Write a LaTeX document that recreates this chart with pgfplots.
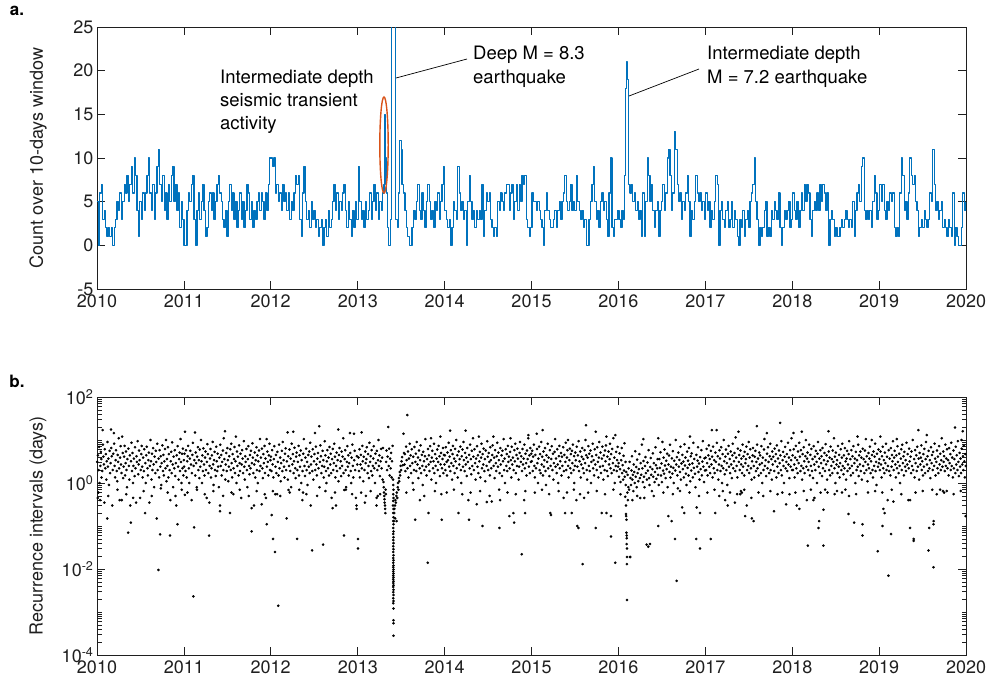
\documentclass[border=0pt]{standalone}
\usepackage{pgfplots}
\pgfplotsset{compat=1.18}
\usepackage{fontspec}
\setmainfont{TeX Gyre Heros}
\definecolor{mblue}{RGB}{0,114,189}
\definecolor{morange}{RGB}{217,83,25}
\definecolor{axgray}{gray}{0.12}

\pgfplotsset{
  panel/.style={
    scale only axis, width=869pt, anchor=north west,
    xmin=0, xmax=3652,
    xtick={0,365,730,1096,1461,1826,2191,2557,2922,3287,3652},
    xticklabels={2010,2011,2012,2013,2014,2015,2016,2017,2018,2019,2020},
    tick align=inside,
    major tick length=8pt, minor tick length=4.5pt,
    axis line style={line width=0.7pt, axgray},
    tick style={line width=0.7pt, axgray},
    tick label style={font=\fontsize{18}{21}\selectfont, text=axgray},
    xticklabel style={yshift=-2pt},
    /pgf/number format/assume math mode=true,
  },
  rdot/.style={only marks, mark=*, mark size=1.1pt, mark options={fill=black, draw=none}},
}

\begin{document}
\begin{tikzpicture}
\useasboundingbox (0pt,0pt) rectangle (992pt,-686pt);
\fill[white] (0pt,0pt) rectangle (992pt,-686pt);

% ---------- a. event count over a sliding 10-day window (x in days since 2010-01-01)
\begin{axis}[panel, at={(97pt,-27pt)}, height=262pt,
  ymin=-5, ymax=25, ytick={-5,0,5,10,15,20,25}]
\addplot[const plot, draw=mblue, line width=1.2pt, line join=round] coordinates {
(0,5)(6,0)(12,6)(18,7)(24,3)(30,4)(36,2)(42,1)(48,2)(54,1)(60,2)(66,0)(72,2)(78,3)(84,5)(90,4)(96,6)(102,3)(108,5)(114,7)(120,6)(126,8)(132,5)(138,7)(144,9)(150,6)(156,10)(162,8)(168,4)(174,1)(180,5)(186,3)(192,6)(198,4)(204,6)(210,8)(216,10)(222,6)(228,4)(234,7)(240,3)(246,6)(252,9)(258,11)(264,7)(270,5)(276,8)(282,4)(288,6)(294,3)(300,7)(306,5)(312,8)(318,9)(324,5)(330,7)(336,4)(342,6)(348,2)(354,5)(360,3)
(366,0)(372,0)(378,4)(384,6)(390,5)(396,7)(402,8)(408,3)(414,0)(420,4)(426,6)(432,3)(438,5)(444,7)(450,4)(456,1)(462,2)(468,5)(474,6)(480,4)(486,6)(492,3)(498,5)(504,7)(510,8)(516,6)(522,5)(528,3)(534,2)(540,4)(546,1)(552,5)(558,7)(564,4)(570,6)(576,3)(582,5)(588,2)(594,4)(600,6)(606,3)(612,5)(618,2)(624,4)(630,7)(636,6)(642,3)(648,5)(654,2)(660,4)(666,3)(672,5)(678,6)(684,4)(690,6)(696,5)(702,3)(708,6)(714,4)(720,7)(726,10)
(732,10)(738,9)(744,10)(750,6)(756,7)(762,5)(768,6)(774,4)(780,7)(786,5)(792,6)(798,4)(804,6)(810,3)(816,5)(822,4)(828,6)(834,8)(840,7)(846,8)(852,3)(858,1)(864,6)(870,9)(876,5)(882,3)(888,4)(894,2)(900,5)(906,3)(912,4)(918,2)(924,3)(930,1)(936,2)(942,3)(948,0)(954,2)(960,3)(966,1)(972,4)(978,2)(984,3)(990,5)(996,7)(1002,4)(1008,6)(1014,3)(1020,5)(1026,4)(1032,6)(1038,7)(1044,4)(1050,2)(1056,5)(1062,3)(1068,1)(1074,4)(1080,2)(1086,5)(1092,3)
(1098,9)(1104,5)(1110,3)(1116,4)(1122,2)(1128,5)(1134,3)(1140,4)(1146,6)(1152,3)(1158,5)(1164,7)(1170,4)(1176,6)(1182,3)(1188,5)(1194,4)(1200,6)(1206,7)(1210,15)(1214,10)(1218,6)(1222,2)(1226,0)(1232,3)(1238,45)(1250,30)(1256,3)(1262,2)(1266,6)(1272,12)(1278,11)(1282,7)(1288,6)(1294,4)(1300,2)(1306,1)(1312,0)(1318,0)(1324,2)(1330,4)(1336,3)(1342,5)(1348,7)(1354,4)(1360,3)(1366,6)(1372,4)(1378,2)(1384,5)(1390,7)(1396,5)(1402,3)(1408,4)(1414,2)(1420,5)(1426,4)(1432,6)(1438,3)(1444,5)(1450,7)(1456,9)(1462,4)
(1468,3)(1474,2)(1480,3)(1486,0)(1492,2)(1498,5)(1504,4)(1510,3)(1516,9)(1522,6)(1528,4)(1534,5)(1540,3)(1546,4)(1552,0)(1558,5)(1564,8)(1570,5)(1576,3)(1582,4)(1588,2)(1594,4)(1600,3)(1606,4)(1612,3)(1618,7)(1624,1)(1630,4)(1636,6)(1642,5)(1648,6)(1654,3)(1660,2)(1666,1)(1672,2)(1678,1)(1684,5)(1690,4)(1696,6)(1702,5)(1708,4)(1714,6)(1720,7)(1726,7)(1732,4)(1738,6)(1744,7)(1750,3)(1756,5)(1762,7)(1768,4)(1774,7)(1780,5)(1786,8)(1792,7)(1798,8)(1804,3)(1810,2)(1816,1)(1822,2)
(1828,6)(1834,5)(1840,5)(1846,4)(1852,5)(1858,4)(1864,3)(1870,2)(1876,0)(1882,4)(1888,6)(1894,4)(1900,3)(1906,2)(1912,2)(1918,3)(1924,4)(1930,2)(1936,4)(1942,5)(1948,3)(1954,5)(1960,6)(1966,8)(1972,5)(1978,4)(1984,5)(1990,7)(1996,4)(2002,5)(2008,4)(2014,8)(2020,5)(2026,4)(2032,3)(2038,4)(2044,2)(2050,3)(2056,0)(2062,0)(2068,3)(2074,5)(2080,7)(2086,9)(2092,5)(2098,3)(2104,4)(2110,2)(2116,5)(2122,6)(2128,4)(2134,5)(2140,3)(2146,1)(2152,6)(2158,10)(2164,2)(2170,1)(2176,3)(2182,3)(2188,4)
(2194,3)(2200,2)(2206,4)(2212,3)(2218,8)(2222,18)(2225,21)(2229,19)(2234,7)(2240,6)(2246,7)(2252,5)(2258,6)(2264,4)(2270,5)(2276,3)(2282,4)(2288,1)(2294,6)(2300,1)(2306,5)(2312,10)(2318,8)(2324,5)(2330,7)(2336,4)(2342,2)(2348,4)(2354,5)(2360,1)(2366,4)(2372,5)(2378,7)(2384,4)(2390,6)(2396,10)(2402,11)(2408,8)(2414,4)(2420,6)(2426,13)(2432,11)(2438,7)(2444,5)(2450,6)(2456,3)(2462,5)(2468,4)(2474,6)(2480,8)(2486,5)(2492,1)(2498,4)(2504,3)(2510,5)(2516,8)(2522,6)(2528,5)(2534,6)(2540,4)(2546,5)(2552,3)
(2558,6)(2564,4)(2570,5)(2576,2)(2582,4)(2588,3)(2594,5)(2600,8)(2606,7)(2612,0)(2618,4)(2624,5)(2630,3)(2636,2)(2642,4)(2648,5)(2654,2)(2660,3)(2666,5)(2672,2)(2678,4)(2684,3)(2690,1)(2696,0)(2702,3)(2708,2)(2714,4)(2720,1)(2726,3)(2732,4)(2738,2)(2744,5)(2750,6)(2756,7)(2762,10)(2768,5)(2774,3)(2780,0)(2786,2)(2792,1)(2798,2)(2804,4)(2810,5)(2816,1)(2822,2)(2828,1)(2834,4)(2840,3)(2846,5)(2852,4)(2858,3)(2864,6)(2870,2)(2876,0)(2882,2)(2888,4)(2894,3)(2900,4)(2906,5)(2912,2)(2918,3)
(2924,6)(2930,4)(2936,3)(2942,5)(2948,2)(2954,4)(2960,6)(2966,4)(2972,7)(2978,5)(2984,7)(2990,6)(2996,3)(3002,1)(3008,4)(3014,5)(3020,4)(3026,6)(3032,4)(3038,7)(3044,5)(3050,7)(3056,6)(3062,4)(3068,6)(3074,0)(3080,3)(3086,4)(3092,3)(3098,1)(3104,2)(3110,1)(3116,1)(3122,2)(3128,3)(3134,2)(3140,3)(3146,4)(3152,3)(3158,2)(3164,3)(3170,2)(3176,5)(3182,1)(3188,4)(3194,6)(3200,7)(3206,5)(3212,9)(3218,10)(3224,4)(3230,3)(3236,4)(3242,3)(3248,4)(3254,2)(3260,5)(3266,8)(3272,6)(3278,3)(3284,4)
(3290,7)(3296,5)(3302,7)(3308,4)(3314,3)(3320,5)(3326,4)(3332,6)(3338,5)(3344,6)(3350,2)(3356,1)(3362,2)(3368,1)(3374,6)(3380,10)(3386,8)(3392,4)(3398,5)(3404,3)(3410,6)(3416,10)(3422,8)(3428,7)(3434,8)(3440,5)(3446,4)(3452,1)(3458,2)(3464,3)(3470,2)(3476,4)(3482,3)(3488,2)(3494,3)(3500,6)(3506,5)(3512,11)(3518,7)(3524,4)(3530,5)(3536,3)(3542,4)(3548,5)(3554,2)(3560,3)(3566,2)(3572,1)(3578,3)(3584,2)(3590,1)(3596,6)(3602,0)(3608,2)(3614,1)(3620,0)(3626,0)(3632,2)(3638,6)(3644,4)(3652,5)
};
\end{axis}

% ---------- b. recurrence intervals between successive events
\begin{axis}[panel, at={(97pt,-397pt)}, height=258pt,
  ymode=log, ymin=1e-4, ymax=1e2,
  ytick={1e-4,1e-2,1,1e2},
  yticklabels={10\textsuperscript{-4},10\textsuperscript{-2},10\textsuperscript{0},10\textsuperscript{2}},
  minor ytick={2e-4,3e-4,4e-4,5e-4,6e-4,7e-4,8e-4,9e-4,1e-3,2e-3,3e-3,4e-3,5e-3,6e-3,7e-3,8e-3,9e-3,
    2e-2,3e-2,4e-2,5e-2,6e-2,7e-2,8e-2,9e-2,1e-1,2e-1,3e-1,4e-1,5e-1,6e-1,7e-1,8e-1,9e-1,
    2,3,4,5,6,7,8,9,10,20,30,40,50,60,70,80,90}]
% 2010
\addplot[rdot] coordinates {
(1,3.1)(3,0.45)(4,4.4)(7,2)(9,6.9)(11,1)(13,0.4)(14,2.5)(16,5.3)(18,3.6)(19,1.35)(22,1.9)(24,17)(25,7.8)(27,4.1)(29,2.7)(31,0.35)(33,6.1)(35,2.2)(37,4.7)(39,1.2)(41,3.2)(43,0.15)(44,9)(46,2.4)(48,3.7)(50,0.9)(53,5.6)(55,1.7)(57,2.9)(59,17.5)(60,6.5)(62,4.2)(64,0.3)(66,2)(68,4.8)(71,14.5)(72,8.2)(74,2.5)(76,1.35)(78,3.4)(80,5.8)(83,1.9)(85,1.1)(87,4.5)(89,3.1)(91,11)(93,2.2)(95,0.4)(97,3.9)(99,7.2)(101,2.7)(103,1.7)(104,0.4)(106,12)(108,5)(110,1.3)(112,2.4)(114,4.1)(116,7.3)(118,1.5)(120,2.9)(122,5.4)(124,2)(126,0.8)(128,3.6)(131,0.07)(132,6.3)(134,2.5)(136,1.2)(138,4.4)(140,0.3)(142,0.12)(143,3.2)(145,8.6)(147,1.9)(149,5)(151,1)(153,2.5)(155,3.7)(158,1.45)(160,6.8)(162,2.2)(164,0.35)(166,4.2)(168,3.1)(171,9.4)(173,1.6)(175,2.7)(177,5.7)(179,3.4)(181,0.45)(184,2)(186,4.7)(188,7.3)(190,2.4)(192,1.35)(194,3.9)(197,1.9)(199,6.1)(202,0.2)(203,2.9)(205,1)(207,4.4)(209,7)(212,2.2)(214,1.5)(216,3.4)(218,5.1)(220,0.35)(222,2.5)(225,10)(227,3.2)(229,1.2)(231,4.8)(233,2)(236,6.5)(238,2.7)(240,0.8)(242,4.1)(245,1.7)(247,5.6)(249,3.1)(251,0.15)(253,8.2)(255,2)(258,0.0095)(259,3.7)(261,1.35)(263,5.8)(265,0.064)(266,2.4)(268,4.2)(270,0.9)(272,2.9)(275,7.5)(277,1.9)(279,4.5)(281,1.5)(283,3.2)(286,6.2)(288,2.2)(290,10)(292,1.1)(294,3.6)(296,2.5)(298,6.8)(300,1.35)(302,4.7)(305,2)(307,0.06)(308,0.4)(310,3.2)(312,5.3)(314,1.7)(316,8.8)(318,2.7)(320,0.8)(322,4.1)(325,2.2)(327,5.8)(329,1.45)(331,2.9)(333,0.3)(335,4.4)(338,0.11)(339,7.2)(341,2.4)(343,1.2)(345,3.6)(347,5.1)(349,1.9)(351,10.5)(353,3.1)(355,1)(357,4.8)(359,2.2)(361,6.3)(363,1.5)(365,3.4)
};
% 2011
\addplot[rdot] coordinates {
(366,2.4)(368,4.8)(369,0.53)(370,15.6)(372,1.9)(374,5.8)(377,1.35)(379,3.2)(381,4.2)(383,7.3)(386,2.2)(388,1)(390,3.7)(392,5.6)(395,2.7)(398,0.4)(399,1.7)(401,4.5)(403,8.6)(405,0.0023)(406,2.5)(408,0.093)(409,3.4)(412,15)(413,1.5)(415,5.1)(417,2.9)(419,0.8)(421,4.1)(424,6.8)(426,2)(428,3.4)(430,1.3)(432,6)(434,2.4)(437,10)(439,3.2)(441,1)(443,4.4)(445,1.9)(447,6.4)(450,2.7)(452,1.5)(454,3.9)(456,5.4)(458,2)(461,0.45)(462,3.1)(464,8)(466,4.7)(468,1.7)(471,0.06)(472,0.35)(473,2.5)(475,3.7)(477,6.2)(479,1.35)(481,2.2)(483,4.4)(486,9)(488,2.7)(490,0.9)(492,3.4)(494,5.3)(496,2)(499,1.45)(501,7)(503,3.2)(505,1.9)(507,4.8)(509,2.4)(512,0.8)(514,3.9)(517,0.3)(517,0.22)(518,7.8)(520,2.5)(522,4.5)(524,1.5)(526,3.1)(529,5.7)(531,2)(533,11)(535,3.6)(538,16)(539,1.2)(541,2.7)(543,5)(545,1.9)(548,6.5)(550,3.4)(552,1.1)(554,2.4)(556,4.2)(559,0.2)(560,6.1)(562,2)(564,8.2)(566,2.9)(568,1.35)(570,4.7)(573,0.55)(574,2.2)(576,3.6)(578,6.9)(580,1.7)(582,3.2)(584,12)(586,1)(588,5.4)(590,2.5)(592,4.1)(595,1.5)(597,7.5)(599,2.9)(601,1.9)(603,4.8)(606,0.45)(608,2.7)(610,5.8)(612,3.7)(614,1.7)(617,9.4)(619,2.4)(621,1.2)(623,4.2)(625,3.1)(628,6.2)(630,2)(632,0.8)(634,3.6)(636,7.2)(639,2.5)(641,1.6)(643,4.5)(645,2.2)(647,5.6)(650,0.075)(650,0.26)(651,2.9)(653,8.4)(655,3.9)(657,1.7)(660,0.3)(661,2.7)(663,5.1)(665,1.35)(667,3.4)(670,6.8)(672,2)(674,4.4)(676,1)(678,3.2)(681,5.7)(683,1.9)(685,10.5)(687,2.5)(689,3.9)(692,0.32)(693,6.3)(695,2.2)(697,1.3)(699,4.7)(701,2.9)(704,7.3)(706,1.7)(708,3.7)(710,0.45)(713,0.11)(713,10.5)(714,2.4)(716,5.4)(718,3.1)(720,1.5)(722,4.4)(725,8.2)(727,2)(729,3.4)
};
% 2012
\addplot[rdot] coordinates {
(731,4.1)(733,1.9)(734,0.18)(736,5.8)(738,2.7)(740,0.05)(741,1.35)(743,3.6)(745,7.2)(748,0.025)(749,0.55)(750,2.4)(752,4.5)(754,1.7)(757,0.55)(758,5.3)(760,3.1)(762,0.0014)(763,1.5)(765,7.8)(767,2.2)(770,3.9)(772,1.1)(774,2.9)(777,5.6)(779,1.9)(781,9)(784,3.4)(786,2.4)(788,1.35)(790,4.8)(793,6.4)(795,2)(797,0.15)(798,3.2)(801,15)(802,1.2)(804,4.2)(805,0.69)(807,2.5)(809,6)(812,1.9)(814,3.7)(816,0.8)(818,8.2)(821,2.7)(823,4.7)(825,15.6)(826,1.7)(828,3.2)(830,6.6)(833,2.2)(835,1.3)(837,4.1)(839,5.1)(841,0.05)(842,2)(844,3.1)(847,7.3)(849,1.5)(851,4.4)(853,2.4)(856,5.7)(858,1)(860,3.4)(863,0.4)(864,1.9)(866,0.6)(867,4.8)(869,10.5)(872,2.5)(874,1.45)(876,3.9)(879,6.3)(881,2)(883,3.1)(885,0.9)(888,4.5)(890,2.4)(892,5.4)(894,1.7)(896,8.6)(898,0.3)(899,2.7)(901,4.1)(904,0.027)(905,1.9)(907,6.1)(909,1.2)(912,3.2)(914,4.7)(916,14.5)(917,2)(920,7)(922,2.7)(924,1.5)(926,3.7)(929,5)(931,2.2)(934,21)(935,0.8)(937,3.1)(939,7.5)(941,4.2)(943,1.7)(946,2.5)(948,5.6)(950,0.037)(951,3.4)(953,1.35)(955,2.4)(957,9.4)(960,4.4)(962,1.9)(964,1)(966,3.2)(968,5.8)(971,2.2)(973,3.9)(975,1.5)(977,6.9)(980,2.7)(982,4.8)(984,1.7)(986,0.45)(988,3.6)(990,0.26)(991,6.2)(993,2)(995,2.9)(997,8.2)(1000,4.1)(1002,1.35)(1004,0.3)(1005,2.5)(1007,5.1)(1009,1.9)(1011,3.4)(1014,17.5)(1015,1.1)(1017,4.5)(1019,6.5)(1021,2.2)(1024,3.2)(1026,1.45)(1028,5.4)(1030,2.5)(1032,4.1)(1035,11)(1036,1.7)(1038,0.06)(1039,0.69)(1041,3.6)(1043,5.8)(1045,2)(1047,0.8)(1050,3.1)(1052,7.2)(1054,2.4)(1056,4.4)(1058,1.5)(1060,2.9)(1063,14.5)(1064,5)(1066,1.9)(1068,1)(1070,3.9)(1073,7.8)(1075,2.5)(1077,1.35)(1080,14)(1081,3.4)(1083,5.6)(1085,2)(1088,0.45)(1091,0.3)(1091,0.25)(1092,4.2)(1094,2.7)
};
% 2013: short intervals in the transient, then the aftershock column
\addplot[rdot] coordinates {
(1097,0.05)(1097,0.03)(1099,3.9)(1101,1.9)(1103,6.1)(1105,1.35)(1107,2.7)(1109,4.5)(1112,15)(1113,2.2)(1115,7.3)(1117,3.2)(1119,1.1)(1121,4.1)(1124,2)(1126,0.35)(1127,5.4)(1129,2.9)(1130,0.5)(1132,3.6)(1134,6.8)(1137,1.7)(1139,4.7)(1141,2.5)(1143,1.3)(1145,8.6)(1148,3.1)(1150,4.2)(1152,1.9)(1154,5.8)(1157,1.5)(1159,2.5)(1161,3.7)(1163,7.2)(1165,2.2)(1168,1)(1170,4.8)(1172,2.9)(1175,0.3)(1175,0.45)(1176,5.6)(1178,2)(1180,0.5)(1181,3.4)(1183,10)(1185,2.5)(1187,4.4)(1189,1.45)(1192,3.2)(1194,6.2)(1196,2.2)(1198,3.9)(1200,1.2)(1202,6.5)
(1204,1.05)(1205,0.8)(1206,0.6)(1207,0.5)(1208,0.42)(1209,0.35)(1210,0.3)(1211,0.25)(1212,0.2)(1213,0.7)(1214,0.55)(1215,3.1)(1217,5.7)(1219,2)(1221,4.1)(1224,20)(1226,2.5)(1228,6.3)(1230,1.5)(1232,3.7)(1234,2.2)(1236,5)(1238,1.35)(1240,3.2)(1242,7.3)
(1244,1.2)(1245,0.9)(1246,0.7)(1245,0.55)(1246,0.45)(1245,0.38)(1244,0.3)(1246,0.25)(1245,0.2)(1246,0.16)(1245,0.13)(1246,0.11)(1245,0.09)(1246,0.075)(1245,0.065)(1246,0.055)(1245,0.047)(1246,0.04)(1245,0.034)(1246,0.029)(1245,0.025)(1246,0.021)(1245,0.018)(1246,0.016)(1245,0.014)(1246,0.012)(1245,0.011)(1246,0.0098)(1245,0.0088)(1246,0.0079)(1245,0.0071)(1246,0.0064)(1245,0.0058)(1246,0.0052)(1245,0.0047)(1246,0.0042)(1245,0.0038)(1246,0.0033)(1245,0.0029)(1246,0.0025)(1245,0.0021)(1246,0.0018)(1245,0.0016)(1246,0.0012)(1246,0.00064)(1246,0.00055)(1246,0.00028)
(1248,0.13)(1249,0.2)(1250,0.25)(1252,0.3)(1253,0.15)(1254,0.4)(1256,0.35)(1258,0.5)(1259,0.13)(1260,0.6)(1262,0.45)(1264,0.8)(1265,1)(1267,0.7)(1269,1.3)(1270,1.1)(1272,1.8)(1274,1.5)(1276,2.5)(1278,2)(1280,3.2)(1282,4)(1285,2.6)(1288,14)(1290,5)
(1292,2.7)(1294,4.7)(1296,1.9)(1299,7)(1301,3.4)(1304,38)(1305,2.2)(1307,5.4)(1309,1.35)(1311,3.7)(1314,8.2)(1316,2.5)(1318,4.4)(1320,1.7)(1323,6.1)(1325,2.9)(1327,1)(1329,4.1)(1332,2)(1334,6.9)(1337,0.14)(1338,3.1)(1340,4.8)(1342,1.9)(1344,9)(1347,2.7)(1349,3.9)(1351,1.3)(1353,5.7)(1356,2.2)(1357,0.4)(1358,3.4)(1360,7.5)(1362,1.7)(1365,4.5)(1367,2.5)(1369,0.9)(1371,5.3)(1374,3.2)(1376,2)(1378,4.2)(1380,10.5)(1383,2.4)(1385,1.5)(1387,3.6)(1390,0.014)(1391,6.2)(1393,0.2)(1394,2.7)(1395,4.4)(1397,1.9)(1400,7.2)(1402,3.1)(1404,11)(1405,1.2)(1407,3.9)(1409,5.6)(1412,2.2)(1414,3.2)(1416,8.2)(1418,1.7)(1421,4.7)(1423,2.5)(1425,1)(1427,3.7)(1430,6)(1432,2)(1434,3.1)(1436,7.3)(1439,4.2)(1441,1.45)(1443,12)(1444,2.7)(1446,5)(1449,0.14)(1450,2.2)(1452,3.6)(1454,6.5)(1456,1.7)(1458,4.5)(1460,2.7)
};
% 2014
\addplot[rdot] coordinates {
(1462,4.4)(1464,2)(1466,6.8)(1469,3.1)(1471,1.5)(1473,5.1)(1475,3.4)(1478,8.6)(1480,2.4)(1482,4.1)(1484,16.5)(1485,1.9)(1487,5.8)(1489,2.9)(1492,1.2)(1494,4.7)(1496,7.3)(1498,2.5)(1501,3.7)(1503,1.7)(1505,6.2)(1507,3.2)(1510,10)(1512,2.2)(1514,4.4)(1516,1.35)(1519,0.2)(1520,5.4)(1522,2.7)(1524,3.6)(1527,7)(1529,2)(1531,1)(1533,4.2)(1536,6)(1538,2.4)(1540,9)(1542,3.4)(1545,1.9)(1547,5)(1549,16.5)(1550,2.7)(1552,3.9)(1554,1.45)(1556,6.5)(1559,3.1)(1561,0.4)(1563,0.14)(1564,4.5)(1566,2.2)(1568,7.8)(1571,3.6)(1573,1.6)(1575,5.6)(1577,2.5)(1580,11)(1582,4.1)(1584,2)(1586,6.1)(1589,2.9)(1591,1.2)(1593,3.7)(1596,0.32)(1597,7.2)(1599,2.4)(1601,4.4)(1603,1.7)(1605,12)(1607,3.2)(1609,5.3)(1611,1.35)(1614,3.9)(1616,8.2)(1618,2.2)(1620,0.1)(1621,4.7)(1623,2.7)(1625,6.3)(1628,1.9)(1630,3.6)(1632,1.1)(1634,5.7)(1637,2.5)(1638,0.36)(1640,9.4)(1642,4.1)(1644,2)(1646,5)(1649,3.1)(1651,1.5)(1653,6.8)(1655,3.4)(1657,2.2)(1659,0.37)(1661,4.5)(1663,7.5)(1666,12)(1667,2.5)(1669,3.9)(1671,1.3)(1673,5.8)(1676,2.9)(1678,1.9)(1680,4.2)(1682,8.6)(1685,2.4)(1687,5.1)(1689,3.4)(1691,0.09)(1692,1.7)(1694,0.4)(1695,6.5)(1697,2.7)(1700,4.4)(1702,1.45)(1704,5.6)(1706,3.2)(1709,10.5)(1711,2)(1713,3.7)(1715,1)(1718,6.1)(1720,2.5)(1722,4.7)(1724,1.9)(1727,7.3)(1729,3.1)(1731,4.1)(1733,0.17)(1734,2.2)(1736,5.3)(1738,11)(1739,3.4)(1741,1.35)(1743,7)(1745,2.7)(1748,3.9)(1750,0.2)(1751,2)(1753,0.12)(1754,5.8)(1756,3.2)(1758,8.2)(1760,1.7)(1763,4.5)(1765,2.5)(1767,6.3)(1769,3.7)(1772,1.2)(1774,2.4)(1776,5)(1778,9)(1781,3.1)(1783,4.2)(1785,0.022)(1786,1.9)(1788,6.2)(1790,2.7)(1793,3.7)(1795,0.4)(1796,7.8)(1798,2.2)(1799,0.2)(1801,4.8)(1803,2.9)(1805,1.5)(1807,5.7)(1810,3.6)(1812,11)(1813,13)(1815,2.4)(1817,4.4)(1819,1.7)(1821,6.5)(1823,3.1)(1825,4.8)
};
% 2015
\addplot[rdot] coordinates {
(1827,3.2)(1829,5.6)(1831,1.9)(1833,4.1)(1836,7.8)(1838,2.5)(1840,1.35)(1842,4.5)(1845,2.2)(1848,14)(1849,6.2)(1851,2.9)(1853,1)(1855,3.7)(1858,7)(1860,2)(1862,4.7)(1864,1.7)(1867,9)(1869,2.7)(1871,4.1)(1873,17)(1874,1.5)(1876,5.4)(1878,2.4)(1880,3.4)(1883,6.5)(1885,1.9)(1887,0.9)(1889,4.4)(1892,3.1)(1894,8.2)(1896,2.2)(1898,3.9)(1901,1.45)(1903,5.8)(1905,0.2)(1906,2.5)(1908,0.18)(1909,3.6)(1911,7.2)(1914,2)(1916,4.8)(1918,1.2)(1920,2.9)(1923,5.3)(1925,10.5)(1927,2.4)(1929,3.7)(1932,1.7)(1934,6.1)(1936,2.7)(1938,1)(1941,4.2)(1943,7.3)(1945,2.2)(1947,3.2)(1950,5)(1952,1.5)(1954,4.1)(1956,2.5)(1959,6.8)(1961,0.45)(1962,1.9)(1964,4.5)(1967,0.2)(1968,3.1)(1970,8.6)(1972,2)(1975,3.9)(1977,5.8)(1979,10)(1980,2.5)(1982,1.35)(1985,3.4)(1987,6.3)(1989,2.2)(1991,4.7)(1993,1.7)(1995,0.2)(1996,5.6)(1998,2.9)(2000,7.8)(2003,2)(2005,4.2)(2006,1)(2008,2.5)(2010,5.1)(2012,3.4)(2015,0.4)(2016,7)(2018,0.1)(2019,2.4)(2021,4.4)(2023,0.09)(2024,9.4)(2026,1.9)(2028,3.2)(2030,0.55)(2031,5.4)(2033,1.35)(2035,2.7)(2037,4.1)(2039,6.5)(2041,0.013)(2042,2.2)(2044,3.6)(2046,1.7)(2047,0.45)(2049,5.8)(2051,2.9)(2053,10)(2055,22)(2056,4.4)(2058,2)(2060,1.2)(2062,3.9)(2065,7.2)(2067,2.5)(2069,4.8)(2071,1.9)(2074,5.7)(2076,1)(2078,3.1)(2080,4.2)(2083,8.2)(2085,2.2)(2087,3.4)(2089,1.5)(2092,6.1)(2094,2.7)(2096,0.09)(2096,15.6)(2098,4.5)(2100,2)(2102,6.8)(2105,3.1)(2107,1.35)(2109,3.9)(2111,9)(2114,2.4)(2116,5.1)(2118,1.7)(2121,0.2)(2122,3.7)(2124,7)(2126,2.5)(2128,1.2)(2130,4.4)(2133,2)(2135,5.7)(2137,3.2)(2139,7.5)(2141,0.2)(2141,12)(2143,1.9)(2145,4.1)(2147,1.45)(2150,5.4)(2152,2.7)(2154,3.6)(2156,8.2)(2158,2.2)(2160,0.057)(2160,0.17)(2161,4.7)(2163,1.7)(2165,6.2)(2168,2.9)(2170,11)(2172,2)(2174,3.9)(2176,1)(2178,0.014)(2178,13)(2180,2.5)(2182,5.3)(2184,1.9)(2186,3.4)(2188,6.9)(2190,2.4)
};
% 2016: short intervals after the M 7.2 event
\addplot[rdot] coordinates {
(2192,2.9)(2194,1.4)(2196,4.9)(2198,2.1)(2200,1.05)(2203,3.4)(2205,6.5)(2207,1.7)(2209,2.6)(2211,1.2)(2213,4.3)(2215,1.95)(2217,8.4)(2218,1.4)(2220,0.48)(2221,3.1)(2222,0.9)(2223,0.19)(2223,0.3)(2224,0.17)(2224,1.8)(2225,0.14)(2225,0.07)(2226,0.06)(2226,0.052)(2226,0.038)(2227,0.03)(2227,0.019)(2227,0.013)(2227,0.0019)(2229,0.6)(2230,1.55)(2231,0.4)(2233,0.8)(2234,2.2)(2236,0.7)(2238,3.1)(2240,0.019)(2241,0.019)(2242,1.3)(2244,0.9)(2246,1.95)(2248,4.2)(2250,1.2)(2252,1.55)(2254,0.65)(2256,2.7)(2258,1.8)(2260,1)(2262,5.5)(2264,1.4)(2266,2.35)(2268,0.8)(2270,3.5)(2272,1.7)(2275,1.1)(2277,2.1)(2279,4.7)(2281,1.3)(2283,0.45)(2285,2.9)(2287,1.55)(2290,7.8)(2292,2.2)(2294,1.05)(2296,10.5)(2297,3.25)(2299,1.4)(2301,0.8)(2303,2.5)(2305,4)(2307,1.7)(2310,0.037)(2311,1.2)(2313,3)(2315,1.95)(2317,0.033)(2318,5.8)(2320,1.3)(2322,0.9)(2324,0.038)(2325,2.35)(2327,3.8)(2329,1.55)(2332,0.65)(2334,2.1)(2336,4.9)(2338,1.4)(2340,2.9)(2343,1.05)(2345,1.8)(2347,6.8)(2349,2.6)(2351,1.25)(2354,2.2)(2356,3.6)(2358,1.55)(2359,0.1)(2359,11)
(2361,0.9)(2363,3.6)(2365,2.25)(2368,5.2)(2370,1.5)(2372,2.85)(2374,1.05)(2376,9)(2379,1.95)(2381,3.9)(2383,1.65)(2385,6)(2387,2.55)(2390,1.3)(2392,3.3)(2394,2.1)(2396,4.8)(2398,0.8)(2401,0.17)(2402,2.7)(2404,4.35)(2406,1.8)(2408,7.8)(2410,1.35)(2412,2.4)(2415,0.13)(2416,3.75)(2418,1.65)(2420,5.5)(2422,2.25)(2424,1)(2426,3.3)(2429,0.05)(2430,1.95)(2432,10)(2434,2.7)(2436,0.0053)(2437,4)(2439,1.5)(2441,0.75)(2443,5.1)(2445,2.4)(2447,3.45)(2450,1.8)(2452,7)(2454,1.2)(2456,2.85)(2459,0.27)(2460,4.5)(2462,2.1)(2464,3.15)(2466,1.35)(2468,0.2)(2469,8)(2471,2.55)(2473,3.9)(2475,1.65)(2477,0.9)(2480,5.4)(2482,2.25)(2484,3.3)(2486,1.5)(2488,6.5)(2490,2.7)(2492,12)(2493,1.1)(2495,4.2)(2497,1.95)(2499,4.9)(2502,2.85)(2504,1.35)(2506,8.6)(2508,2.25)(2510,3.6)(2513,1.65)(2515,0.8)(2518,0.05)(2519,4.5)(2520,0.27)(2522,2.4)(2524,3.3)(2526,6.8)(2528,1.8)(2530,2.85)(2532,1.2)(2534,0.03)(2534,0.2)(2535,4)(2537,2.1)(2540,5.8)(2542,1.5)(2544,3.15)(2546,9.4)(2548,2.4)(2551,1.05)(2553,3.75)(2555,1.95)
};
% 2017
\addplot[rdot] coordinates {
(2558,3.9)(2560,2)(2562,6.2)(2564,2.9)(2566,1.5)(2569,4.4)(2571,7.5)(2573,2.4)(2575,3.6)(2577,1.7)(2579,0.05)(2580,5.6)(2582,2.7)(2584,17)(2585,4.1)(2587,1.35)(2589,7)(2592,2.2)(2594,3.4)(2596,1.7)(2598,0.2)(2599,5.1)(2601,3.1)(2604,17)(2605,8.6)(2607,2)(2609,4.2)(2611,1.2)(2614,2.7)(2615,0.5)(2616,5.8)(2618,3.7)(2620,1.9)(2623,6.8)(2625,2.5)(2627,1)(2629,4.7)(2632,2.2)(2634,10)(2636,3.2)(2638,1.6)(2640,0.4)(2641,4.1)(2643,6)(2645,2)(2647,2.9)(2649,0.9)(2651,0.3)(2652,4.8)(2654,7.3)(2656,2.4)(2659,3.6)(2660,0.6)(2661,1.7)(2663,5.4)(2665,2.7)(2668,1.3)(2670,4.4)(2672,8.2)(2674,2.2)(2677,3.2)(2679,5)(2681,0.35)(2682,1.9)(2684,11.5)(2686,3.9)(2688,2.5)(2691,1.35)(2693,6.3)(2696,15.6)(2697,3.1)(2699,4.5)(2701,2)(2703,0.55)(2704,5.7)(2706,0.65)(2707,2.7)(2708,3.7)(2710,0.6)(2711,1.7)(2713,7.8)(2715,2.4)(2717,4.2)(2720,1.5)(2722,5.3)(2724,0.17)(2725,2.9)(2727,3.6)(2729,7)(2731,0.3)(2732,2)(2734,4.7)(2737,2.5)(2739,9)(2741,1.7)(2743,3.9)(2745,6.1)(2748,2.2)(2750,0.45)(2751,1.2)(2752,0.15)(2753,3.2)(2755,4.4)(2757,6.5)(2759,0.13)(2760,2.5)(2762,1.35)(2764,4.1)(2767,5.6)(2769,1.9)(2771,3.1)(2773,21)(2774,7.8)(2776,2.2)(2778,3.7)(2781,1.5)(2783,5.1)(2785,2.7)(2787,4.4)(2790,1.7)(2792,7.2)(2794,2.9)(2796,1)(2798,3.9)(2800,0.5)(2801,2)(2803,6)(2805,10.5)(2807,2.5)(2810,3.4)(2812,1.45)(2815,14.5)(2816,4.8)(2818,2.2)(2820,6.8)(2822,3.1)(2825,1.7)(2827,4.2)(2829,8.2)(2831,2)(2834,3.6)(2836,1.2)(2838,5.4)(2840,2.7)(2842,4.1)(2845,0.22)(2846,1.9)(2848,6.3)(2850,3.2)(2853,4.7)(2855,1.35)(2857,7.5)(2859,2.4)(2860,0.55)(2862,3.7)(2864,1.7)(2866,5.7)(2869,2.9)(2871,25)(2872,4.4)(2874,2)(2876,9.4)(2878,1.5)(2881,3.4)(2883,5.3)(2885,2.5)(2887,1)(2890,4.1)(2892,6.9)(2894,2.2)(2896,0.32)(2897,3.1)(2899,4.7)(2901,1.9)(2904,8.6)(2906,2.7)(2908,3.9)(2910,1.3)(2913,5.8)(2915,2.4)(2917,3.4)(2919,11)(2921,2)
};
% 2018
\addplot[rdot] coordinates {
(2923,4.4)(2925,2)(2927,14.5)(2928,6.1)(2930,2.7)(2932,1.35)(2934,3.9)(2937,7.3)(2939,2.2)(2941,0.3)(2942,3.4)(2944,1.7)(2946,5.4)(2949,2.9)(2951,8.6)(2952,0.25)(2954,4.1)(2956,1.9)(2958,5.8)(2960,2.5)(2962,15.6)(2963,1.2)(2965,4.7)(2968,2.2)(2970,6.8)(2972,3.2)(2974,1.7)(2977,4.2)(2979,10)(2981,2.4)(2983,0.4)(2984,3.7)(2986,5.1)(2987,0.035)(2989,2)(2991,3.1)(2993,7.8)(2996,1.5)(2998,4.5)(3000,2.5)(3002,6.2)(3005,1.9)(3007,3.6)(3009,1.3)(3011,0.4)(3012,7.2)(3014,2.7)(3015,0.45)(3017,4.1)(3019,2)(3021,5.6)(3024,3.1)(3026,1)(3028,4.8)(3030,9)(3032,0.09)(3033,2.4)(3035,0.13)(3036,3.7)(3038,1.7)(3040,5.8)(3041,0.6)(3043,2.9)(3045,4.2)(3047,1.45)(3049,6.5)(3051,2.2)(3053,0.035)(3053,0.24)(3055,3.4)(3057,5)(3059,1.9)(3060,0.7)(3062,8)(3064,2.7)(3066,4.4)(3068,1.2)(3071,3.2)(3074,16)(3075,5.4)(3077,2)(3079,3.9)(3081,1.5)(3083,7)(3086,2.5)(3088,3.6)(3090,1.7)(3092,5.7)(3095,3.1)(3097,11)(3099,2.2)(3100,0.55)(3101,4.1)(3103,1)(3105,5.1)(3108,2.7)(3110,3.4)(3112,1.7)(3114,7.3)(3117,2.4)(3119,4.5)(3121,1.35)(3123,2.9)(3126,6.1)(3128,2)(3130,3.9)(3131,0.6)(3132,8.2)(3134,2.5)(3137,1.6)(3139,4.4)(3141,2.2)(3143,6.5)(3146,3.2)(3148,1.2)(3150,3.7)(3152,5.6)(3154,1.9)(3156,2.7)(3158,0.19)(3159,4.7)(3160,0.5)(3161,9.4)(3163,2.2)(3166,3.6)(3168,1.5)(3170,5.8)(3172,2.5)(3175,4.2)(3177,1.7)(3179,7.2)(3182,0.12)(3183,2.9)(3185,3.7)(3187,1)(3189,5.3)(3192,2)(3194,3.4)(3196,12)(3197,2.4)(3199,7.8)(3201,1.45)(3203,4.4)(3206,2.7)(3208,5.4)(3210,1.9)(3212,3.9)(3214,1.2)(3217,0.06)(3217,0.11)(3218,6.3)(3220,2.5)(3222,3.6)(3225,1.7)(3227,5.7)(3229,3.1)(3231,10.5)(3233,2)(3235,4.2)(3238,1.1)(3240,2.7)(3242,5)(3244,2.2)(3246,3.7)(3248,7)(3251,1.7)(3253,3.2)(3256,10)(3257,4.5)(3259,2)(3261,1.35)(3263,5.4)(3266,2.5)(3268,4.1)(3270,8.2)(3272,1.9)(3274,3.1)(3276,0.9)(3278,4.8)(3281,0.026)(3282,2.4)(3284,6)(3286,2.9)
};
% 2019
\addplot[rdot] coordinates {
(3288,3.6)(3290,2)(3292,12)(3293,5.4)(3295,2.7)(3297,1.35)(3299,4.2)(3301,0.1)(3302,7)(3304,2.2)(3305,0.25)(3307,3.4)(3309,1.7)(3310,0.2)(3311,5.1)(3313,2.9)(3316,8.2)(3318,2)(3320,4.1)(3323,0.4)(3324,2.5)(3326,0.007)(3327,5.8)(3329,1.9)(3331,3.7)(3334,1.5)(3336,6.5)(3337,0.065)(3339,2.4)(3341,4.5)(3343,3.2)(3345,9.4)(3347,0.37)(3348,2)(3350,3.9)(3352,5.6)(3355,2.7)(3357,1.35)(3359,4.4)(3361,10.5)(3362,2.2)(3364,7.2)(3366,3.1)(3369,1.7)(3371,4.8)(3373,2.5)(3375,1)(3378,3.7)(3380,6.1)(3382,2)(3384,7.8)(3387,2.9)(3389,4.2)(3391,1.5)(3393,5.3)(3396,2.4)(3398,3.4)(3400,1.9)(3402,8.6)(3405,2.7)(3407,4.7)(3410,0.4)(3411,2.2)(3413,6.3)(3415,3.2)(3417,0.09)(3417,0.4)(3419,4.1)(3421,1.7)(3423,5.4)(3425,2.5)(3428,10)(3430,2)(3432,0.05)(3432,0.045)(3434,3.6)(3436,1.35)(3438,5.8)(3440,2.9)(3443,4.4)(3445,1.9)(3447,7)(3450,2.4)(3452,17)(3453,3.7)(3455,1.2)(3457,5)(3460,2.7)(3462,3.9)(3464,7.5)(3466,2)(3468,3.2)(3471,1.5)(3473,4.7)(3475,2.4)(3477,6.2)(3480,1.7)(3482,3.6)(3484,9)(3487,13)(3488,2.7)(3490,4.2)(3492,1.9)(3494,0.027)(3495,5.6)(3497,0.09)(3498,2.2)(3500,3.4)(3502,1.3)(3505,6.8)(3507,2.9)(3509,4.5)(3512,2)(3514,5.3)(3515,0.011)(3515,0.11)(3516,0.13)(3518,2.5)(3520,8.2)(3522,3.7)(3524,1.5)(3527,3.1)(3529,0.55)(3530,5.7)(3532,2.2)(3534,4.1)(3536,1.7)(3539,7.2)(3541,2.7)(3543,0.7)(3544,4.8)(3546,2)(3548,3.4)(3550,11)(3553,2.4)(3555,0.65)(3556,5.4)(3558,3.1)(3560,4.2)(3563,1.9)(3565,7.8)(3567,2.5)(3569,3.7)(3571,0.65)(3572,6.1)(3574,2.2)(3577,3.4)(3579,1.5)(3581,6.5)(3583,2.9)(3586,4.7)(3588,2)(3590,8.6)(3592,2.5)(3594,3.9)(3597,1.35)(3599,5.7)(3601,2.2)(3603,3.6)(3606,19.5)(3607,1.7)(3609,7)(3611,2.7)(3613,4.4)(3616,2)(3618,9.4)(3620,3.1)(3622,1.45)(3625,5)(3627,2.4)(3629,3.7)(3631,1.7)(3633,10)(3634,6.3)(3636,2.7)(3638,16)(3639,4.2)(3641,2)(3643,7.3)(3645,3.2)(3647,1.35)(3649,4.7)(3650,0.17)(3651,2.5)
};
% intervals of roughly half a day, spread over the whole decade
\addplot[rdot] coordinates {
(6,0.6)(47,0.5)(86,0.7)(123,0.55)(152,0.45)(196,0.65)(230,0.5)(268,0.75)(297,0.6)(330,0.5)(356,0.7)
(380,0.6)(420,0.7)(453,0.55)(489,0.65)(530,0.5)(565,0.6)(600,0.7)(638,0.5)(671,0.65)(705,0.55)
(739,0.65)(770,0.5)(810,0.6)(850,0.7)(880,0.55)(925,0.5)(960,0.65)(1000,0.6)(1046,0.7)(1072,0.55)
(1110,0.6)(1150,0.65)(1190,0.55)(1300,0.6)(1330,0.7)(1375,0.5)(1420,0.65)(1447,0.55)
(1470,0.6)(1500,0.7)(1535,0.55)(1570,0.6)(1610,0.65)(1650,0.5)(1690,0.7)(1725,0.6)(1760,0.55)(1800,0.65)
(1840,0.6)(1870,0.7)(1900,0.55)(1940,0.65)(1975,0.6)(2004,0.7)(2064,0.6)(2100,0.65)(2135,0.55)(2170,0.7)
(2200,0.55)(2250,0.4)(2270,0.5)(2300,0.45)(2340,0.5)(2380,0.6)(2420,0.55)(2450,0.65)(2490,0.6)(2530,0.5)
(2565,0.6)(2595,0.7)(2630,0.65)(2690,0.55)(2720,0.7)(2780,0.6)(2830,0.65)(2880,0.6)(2910,0.55)
(2935,0.6)(2970,0.65)(3000,0.7)(3070,0.6)(3110,0.65)(3145,0.7)(3190,0.55)(3240,0.6)(3270,0.65)
(3300,0.6)(3340,0.7)(3380,0.55)(3440,0.6)(3470,0.65)(3510,0.7)(3560,0.6)(3600,0.55)(3630,0.65)
};
\end{axis}

% ---------- axis titles and panel letters
\node[rotate=90, font=\fontsize{18}{21}\selectfont, text=axgray] at (38pt,-158pt) {Count over 10-days window};
\node[rotate=90, font=\fontsize{18}{21}\selectfont, text=axgray] at (38pt,-526pt) {Recurrence intervals (days)};
\node[font=\fontsize{17}{20}\selectfont\bfseries] at (17pt,-11pt) {a.};
\node[font=\fontsize{17}{20}\selectfont\bfseries] at (17pt,-381pt) {b.};

% ---------- annotations of panel a
\begin{scope}[every node/.style={font=\fontsize{18.5}{22}\selectfont, anchor=base west, inner sep=0pt}]
\node at (220pt,-83pt) {Intermediate depth};
\node at (220pt,-106pt) {seismic transient};
\node at (220pt,-129pt) {activity};
\node at (473pt,-59pt) {Deep M = 8.3};
\node at (473pt,-83pt) {earthquake};
\node at (707pt,-59pt) {Intermediate depth};
\node at (707pt,-83pt) {M = 7.2 earthquake};
\end{scope}
\draw[black, line width=0.7pt] (467pt,-59pt) -- (396pt,-78pt);
\draw[black, line width=0.7pt] (699pt,-69pt) -- (629pt,-96pt);
\draw[morange, line width=1.4pt] (384pt,-145pt) ellipse [x radius=4.2pt, y radius=48pt];
\end{tikzpicture}
\end{document}
